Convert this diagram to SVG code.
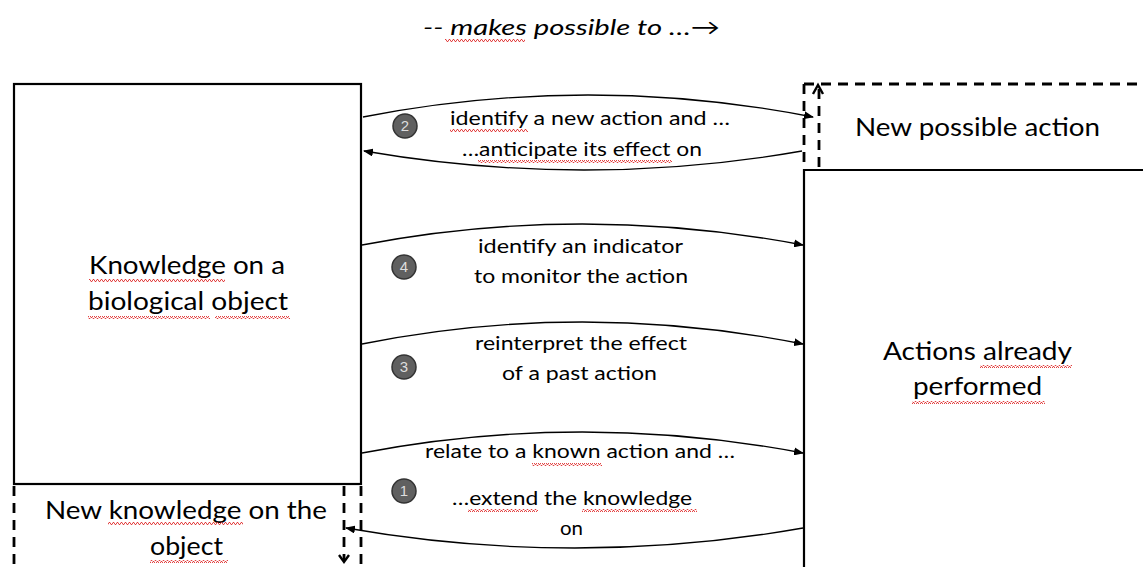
<svg xmlns="http://www.w3.org/2000/svg" width="1143" height="567" viewBox="0 0 1143 567">
<style>
.box{fill:none;stroke:#000;stroke-width:2.2}
.dash{fill:none;stroke:#000;stroke-width:2.8;stroke-dasharray:10 7}
.chev{fill:none;stroke:#000;stroke-width:2.4}
.con{fill:none;stroke:#000;stroke-width:1.3}
.big{font-family:Lato,"Liberation Sans",sans-serif;font-size:24.5px;fill:#000}
.lbl{font-family:Lato,"Liberation Sans",sans-serif;font-size:19.5px;fill:#000}
.num{font-family:"Liberation Sans",sans-serif;font-size:15px;fill:#ddd;text-anchor:middle}
.badge{fill:#606060;stroke:#333;stroke-width:1.5}
.sq{fill:url(#wave)}
</style>
<defs>
<marker id="ah" markerWidth="10" markerHeight="8" refX="9" refY="4" orient="auto" markerUnits="userSpaceOnUse">
<path d="M0,0 L10,4 L0,8 z" fill="#000"/>
</marker>
<pattern id="wave" width="4" height="3" patternUnits="userSpaceOnUse">
<path d="M0,2.5 L1,0.5 L2,0.5 L3,2.5 L4,2.5" fill="none" stroke="#e03030" stroke-width="0.9"/>
</pattern>
</defs>
<rect width="1143" height="567" fill="#fff"/>

<g id="title">
<text x="423" y="35" textLength="297" lengthAdjust="spacingAndGlyphs" font-family="Lato,'Liberation Sans',sans-serif" font-size="22" font-style="italic" fill="#000">-- makes possible to …→</text>
<rect class="sq" x="445" y="39" width="80" height="3"/>
</g>

<g id="knowledge">
<rect class="box" x="14" y="84" width="347" height="400"/>
<text class="big" x="89" y="274" textLength="196" lengthAdjust="spacingAndGlyphs">Knowledge on a</text>
<text class="big" x="88" y="310" textLength="200" lengthAdjust="spacingAndGlyphs">biological object</text>
<rect class="sq" x="89" y="279" width="136" height="3"/>
<rect class="sq" x="88" y="316" width="122" height="3"/>
<rect class="sq" x="215" y="316" width="75" height="3"/>
</g>

<g id="new-knowledge">
<line class="dash" x1="14" y1="486" x2="14" y2="567"/>
<line class="dash" x1="361" y1="486" x2="361" y2="567"/>
<line class="dash" x1="344" y1="486" x2="344" y2="561"/>
<path class="chev" d="M339,555 L344,562 L349,555"/>
<text class="big" x="45" y="519" textLength="282" lengthAdjust="spacingAndGlyphs">New knowledge on the</text>
<text class="big" x="150" y="555" textLength="73" lengthAdjust="spacingAndGlyphs">object</text>
<rect class="sq" x="108" y="522" width="135" height="3"/>
<rect class="sq" x="150" y="560" width="78" height="3"/>
</g>

<g id="new-action">
<line class="dash" x1="804" y1="84" x2="1143" y2="84"/>
<line class="dash" x1="804" y1="84" x2="804" y2="168"/>
<line class="dash" x1="819" y1="167" x2="819" y2="88"/>
<path class="chev" d="M813,94 L818,85 L823,94"/>
<text class="big" x="855" y="136" textLength="245" lengthAdjust="spacingAndGlyphs">New possible action</text>
</g>

<g id="actions-performed">
<path class="box" d="M804,567 L804,170 L1143,170"/>
<text class="big" x="883" y="360" textLength="189" lengthAdjust="spacingAndGlyphs">Actions already</text>
<text class="big" x="913" y="395" textLength="129" lengthAdjust="spacingAndGlyphs">performed</text>
<rect class="sq" x="980" y="365" width="92" height="3"/>
<rect class="sq" x="912" y="401" width="133" height="3"/>
</g>

<g id="connectors">
<path class="con" d="M363,117 Q588,73 813,117" marker-end="url(#ah)"/>
<path class="con" d="M802,151 Q585,189 364,151" marker-end="url(#ah)"/>
<path class="con" d="M362,245 Q582,203 803,245" marker-end="url(#ah)"/>
<path class="con" d="M362,344 Q582,300 803,344" marker-end="url(#ah)"/>
<path class="con" d="M362,453 Q582,411 803,453" marker-end="url(#ah)"/>
<path class="con" d="M803,528 Q575,568 346,528" marker-end="url(#ah)"/>
</g>

<g id="label-2">
<circle class="badge" cx="405" cy="126" r="12"/>
<text class="num" x="405" y="131">2</text>
<text class="lbl" x="450" y="125" textLength="280" lengthAdjust="spacingAndGlyphs">identify a new action and …</text>
<text class="lbl" x="462" y="156" textLength="240" lengthAdjust="spacingAndGlyphs">…anticipate its effect on</text>
<rect class="sq" x="450" y="129" width="78" height="3"/>
<rect class="sq" x="478" y="160" width="194" height="3"/>
</g>

<g id="label-4">
<circle class="badge" cx="404" cy="267" r="12"/>
<text class="num" x="404" y="272">4</text>
<text class="lbl" x="478" y="253" textLength="205" lengthAdjust="spacingAndGlyphs">identify an indicator</text>
<text class="lbl" x="474" y="283" textLength="214" lengthAdjust="spacingAndGlyphs">to monitor the action</text>
</g>

<g id="label-3">
<circle class="badge" cx="404" cy="367" r="12"/>
<text class="num" x="404" y="372">3</text>
<text class="lbl" x="475" y="350" textLength="212" lengthAdjust="spacingAndGlyphs">reinterpret the effect</text>
<text class="lbl" x="502" y="380" textLength="155" lengthAdjust="spacingAndGlyphs">of a past action</text>
</g>

<g id="label-1">
<circle class="badge" cx="404" cy="491" r="12"/>
<text class="num" x="404" y="496">1</text>
<text class="lbl" x="425" y="458" textLength="310" lengthAdjust="spacingAndGlyphs">relate to a known action and …</text>
<text class="lbl" x="452" y="505" textLength="240" lengthAdjust="spacingAndGlyphs">…extend the knowledge</text>
<text class="lbl" x="560" y="535" textLength="23" lengthAdjust="spacingAndGlyphs">on</text>
<rect class="sq" x="532" y="463" width="70" height="3"/>
<rect class="sq" x="468" y="509" width="70" height="3"/>
<rect class="sq" x="582" y="509" width="115" height="3"/>
</g>
</svg>
